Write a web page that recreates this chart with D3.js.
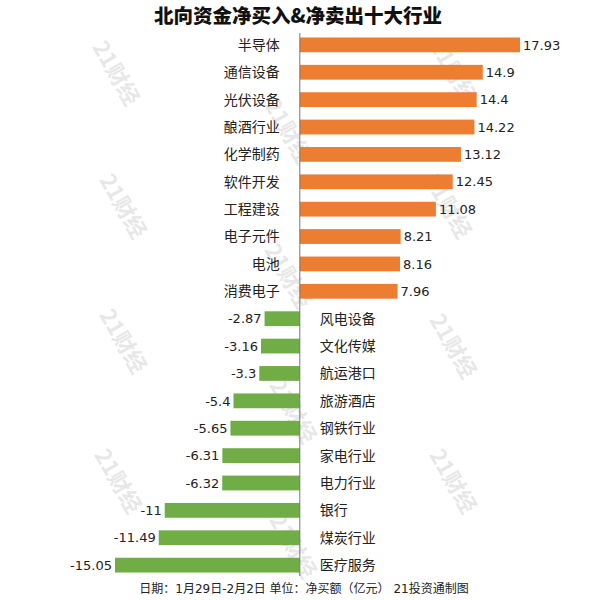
<!DOCTYPE html>
<html><head><meta charset="utf-8">
<script src="https://cdn.jsdelivr.net/npm/d3@7"></script>
<style>body{margin:0;background:#fff}svg{display:block}</style>
</head><body>
<script>
const categories = ["半导体","通信设备","光伏设备","酿酒行业","化学制药","软件开发","工程建设","电子元件","电池","消费电子",
  "风电设备","文化传媒","航运港口","旅游酒店","钢铁行业","家电行业","电力行业","银行","煤炭行业","医疗服务"];
const values = [17.93,14.9,14.4,14.22,13.12,12.45,11.08,8.21,8.16,7.96,
  -2.87,-3.16,-3.3,-5.4,-5.65,-6.31,-6.32,-11,-11.49,-15.05];
const valueLabels = ["17.93","14.9","14.4","14.22","13.12","12.45","11.08","8.21","8.16","7.96",
  "-2.87","-3.16","-3.3","-5.4","-5.65","-6.31","-6.32","-11","-11.49","-15.05"];
const title = "北向资金净买入&净卖出十大行业";
const footer = "日期：1月29日-2月2日 单位：净买额（亿元） 21投资通制图";
const watermark = "21财经";

const W=600,H=600;
const font = "'DejaVu Sans','Noto Sans CJK SC',sans-serif";
const svg = d3.select("body").append("svg").attr("width",W).attr("height",H);

const x = d3.scaleLinear().domain([-15.05,17.93]).range([115,520]);
const y = d3.scaleBand().domain(categories).range([32,578]).paddingInner(0.46).paddingOuter(0.2);

// watermarks
const wm = [[118,72],[290,130],[455,70],[125,205],[290,275],[450,205],[125,340],[295,410],[455,345],[120,480],[295,545],[455,480]];
svg.append("g").selectAll("text").data(wm).join("text")
  .attr("transform",d=>`translate(${d[0]},${d[1]}) rotate(60)`)
  .attr("text-anchor","middle").attr("dominant-baseline","central")
  .attr("font-family","'Noto Sans CJK SC',sans-serif").attr("font-weight","bold").attr("font-size",22)
  .attr("fill","#000").attr("opacity",0.09).text(watermark);

svg.append("text").attr("x",298).attr("y",23).attr("text-anchor","middle")
  .attr("font-family","'Noto Sans CJK SC',sans-serif").attr("font-weight","900").attr("font-size",19.5).attr("fill","#111").text(title);

const rows = categories.map((c,i)=>({c,v:values[i],l:valueLabels[i]}));
svg.append("g").selectAll("rect").data(rows).join("rect")
  .attr("x",d=>x(Math.min(0,d.v))).attr("width",d=>Math.abs(x(d.v)-x(0)))
  .attr("y",d=>y(d.c)).attr("height",y.bandwidth())
  .attr("fill",d=>d.v>=0?"#ed7d31":"#70ad47");

svg.append("line").attr("x1",x(0)).attr("x2",x(0)).attr("y1",33).attr("y2",576)
  .attr("stroke","#777").attr("stroke-width",1);

const g = svg.append("g").attr("font-family",font).attr("fill","#222");
g.selectAll(".cat").data(rows).join("text")
  .attr("font-size",14)
  .attr("x",d=>d.v>=0?x(0)-20:x(0)+20)
  .attr("y",d=>y(d.c)+y.bandwidth()/2).attr("dy","0.35em")
  .attr("text-anchor",d=>d.v>=0?"end":"start").text(d=>d.c);
g.selectAll(".val").data(rows).join("text")
  .attr("font-size",13)
  .attr("x",d=>d.v>=0?x(d.v)+3:x(d.v)-3)
  .attr("y",d=>y(d.c)+y.bandwidth()/2).attr("dy","0.36em")
  .attr("text-anchor",d=>d.v>=0?"start":"end").text(d=>d.l);

svg.append("text").attr("x",304).attr("y",593).attr("text-anchor","middle")
  .attr("font-family",font).attr("font-size",12).attr("fill","#222").text(footer);
</script>
</body></html>
